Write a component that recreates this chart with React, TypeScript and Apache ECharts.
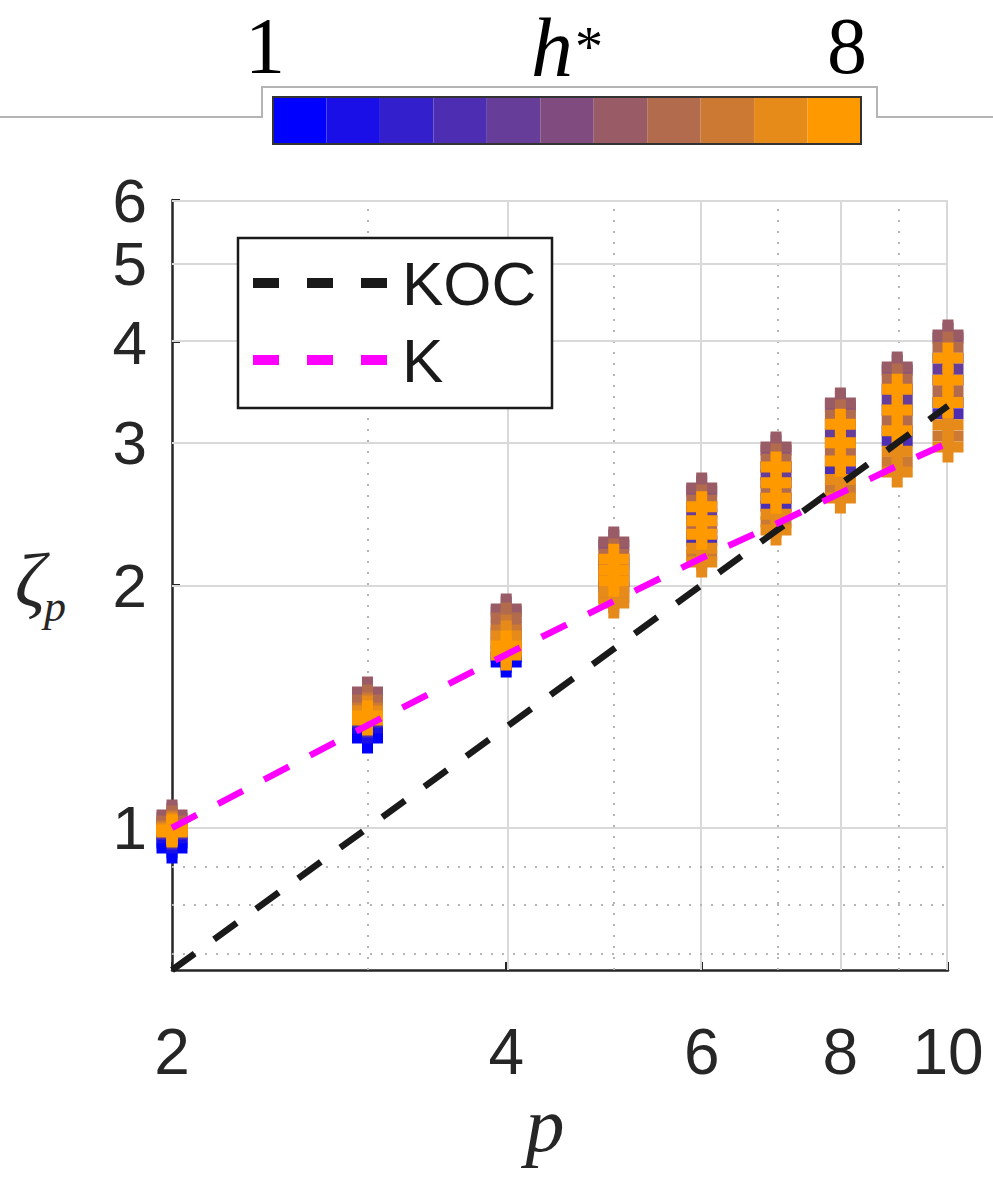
import React, { useEffect, useRef } from "react";
import * as echarts from "echarts";

// ---------- data ----------
const P = [2, 3, 4, 5, 6, 7, 8, 9, 10];
const HSTAR = [1, 1.5, 2, 3, 4, 4.5, 5, 5.5, 6, 6.5, 7, 7.25, 7.5, 7.75, 8];

// zeta_p for each h* (same order as HSTAR)
const ZETA_P2 = [0.9445, 0.9581, 0.9719, 0.983, 1.0, 1.0289, 1.0378, 1.0202, 1.0115, 1.0057, 1.0, 0.9972, 0.9943, 0.9915, 0.9887];
const ZETA_P3 = [1.2928, 1.3113, 1.3302, 1.3531, 1.3844, 1.4615, 1.4741, 1.4408, 1.4244, 1.4083, 1.3963, 1.3844, 1.3765, 1.3687, 1.3609];
const ZETA_P4 = [1.6058, 1.6288, 1.657, 1.6952, 1.7443, 1.852, 1.8679, 1.8206, 1.7897, 1.7593, 1.7294, 1.7049, 1.6808, 1.657, 1.6382];
const ZETA_P5 = [2.0221, 2.1519, 2.086, 1.9906, 2.1184, 2.2421, 2.2614, 2.1853, 2.0535, 1.9297, 1.9602, 1.9002, 2.0221, 2.1519, 2.086];
const ZETA_P6 = [2.311, 2.4996, 2.4031, 2.2659, 2.4508, 2.6156, 2.638, 2.5493, 2.3562, 2.1784, 2.2217, 2.136, 2.311, 2.4996, 2.4031];
const ZETA_P7 = [2.5609, 2.8017, 2.6782, 2.5038, 2.7393, 2.9402, 2.9654, 2.8656, 2.6186, 2.3935, 2.448, 2.3401, 2.5609, 2.8017, 2.6782];
const ZETA_P8 = [2.8485, 3.1647, 3.002, 2.7747, 3.0827, 3.3334, 3.362, 3.2489, 2.9243, 2.632, 2.702, 2.5638, 2.8485, 3.1647, 3.002];
const ZETA_P9 = [3.1066, 3.4961, 3.2956, 3.0166, 3.3939, 3.694, 3.7257, 3.6003, 3.2002, 2.8436, 2.9293, 2.7613, 3.1066, 3.4961, 3.2956];
const ZETA_P10 = [3.3659, 3.8216, 3.587, 3.261, 3.7024, 4.0471, 4.0819, 3.9445, 3.4752, 3.0608, 3.1593, 2.9654, 3.3659, 3.8216, 3.587];
const ZETA_BY_P = [ZETA_P2, ZETA_P3, ZETA_P4, ZETA_P5, ZETA_P6, ZETA_P7, ZETA_P8, ZETA_P9, ZETA_P10];

const KOC = [0.6667, 1.0, 1.3333, 1.6667, 2.0, 2.3333, 2.6667, 3.0, 3.3333];
const K = [1.0, 1.34, 1.64, 1.91, 2.16, 2.38, 2.6, 2.81, 3.0];

const X_RANGE = [2, 10];
const Y_RANGE = [0.6667, 6];
const X_TICKS = [2, 4, 6, 8, 10];
const X_MINOR = [3, 5, 7, 9];
const Y_TICKS = [1, 2, 3, 4, 5, 6];
const Y_MINOR = [0.7, 0.8, 0.9];

const H_RANGE = [1, 8];
const COLORBAR_COLORS = [
  "#0000FF", "#1A0FE6", "#331FCC", "#4D2EB3", "#663D99", "#804C80",
  "#995C66", "#B36B4D", "#CC7A33", "#E68A1A", "#FF9900",
];
const COLORBAR_LEVELS = COLORBAR_COLORS.map((_, i) => i);

// ---------- helpers ----------
const colorFor = (h: number) => {
  const n = COLORBAR_COLORS.length;
  const idx = Math.min(n - 1, Math.floor(((h - H_RANGE[0]) / (H_RANGE[1] - H_RANGE[0])) * n));
  return COLORBAR_COLORS[Math.max(0, idx)];
};
const L = (v: number) => Math.log(v);

const PLUS = "path://M10,0L21,0L21,10L31,10L31,21L21,21L21,31L10,31L10,21L0,21L0,10L10,10Z";
const SANS = "'Liberation Sans', Arial, sans-serif";
const SERIF = "'Liberation Serif', 'Times New Roman', serif";
const AX = "#262626";

const centered = { align: "center", verticalAlign: "middle", textAlign: "center", textVerticalAlign: "middle" };

export default function App() {
  const ref = useRef<HTMLDivElement>(null);

  useEffect(() => {
    if (!ref.current) return;
    const chart = echarts.init(ref.current, undefined, { renderer: "svg" });

    const scatterData: any[] = [];
    HSTAR.forEach((h, hi) => {
      P.forEach((p, pi) => {
        scatterData.push({
          value: [L(p), L(ZETA_BY_P[pi][hi]), h],
          itemStyle: { color: colorFor(h), opacity: 1 },
        });
      });
    });

    const solid = { color: "#d9d9d9", width: 2, type: "solid" };
    const dotted = { color: "#b5b5b5", width: 2, type: [2, 9] };

    const option: any = {
      animation: false,
      backgroundColor: "#ffffff",
      grid: [
        { left: 172, top: 200, width: 776, height: 770, containLabel: false },
        { left: 273, top: 97, width: 588, height: 47, containLabel: false },
      ],
      xAxis: [
        {
          type: "value",
          gridIndex: 0,
          min: L(X_RANGE[0]),
          max: L(X_RANGE[1]),
          axisLine: { show: true, onZero: false, lineStyle: { color: AX, width: 2.5 } },
          axisTick: {
            show: true,
            inside: true,
            length: 8,
            customValues: X_TICKS.map(L),
            lineStyle: { color: AX, width: 2 },
          },
          axisLabel: {
            show: true,
            customValues: X_TICKS.map(L),
            formatter: (v: number) => String(Math.round(Math.exp(v))),
            fontSize: 64,
            lineHeight: 56,
            fontFamily: SANS,
            color: AX,
            margin: 54,
          },
          splitLine: { show: false },
        },
        {
          type: "category",
          gridIndex: 1,
          data: COLORBAR_LEVELS,
          show: false,
        },
      ],
      yAxis: [
        {
          type: "value",
          gridIndex: 0,
          min: L(Y_RANGE[0]),
          max: L(Y_RANGE[1]),
          axisLine: { show: true, onZero: false, lineStyle: { color: AX, width: 2.5 } },
          axisTick: {
            show: true,
            inside: true,
            length: 8,
            customValues: Y_TICKS.map(L),
            lineStyle: { color: AX, width: 2 },
          },
          axisLabel: {
            show: true,
            customValues: Y_TICKS.map(L),
            formatter: (v: number) => String(Math.round(Math.exp(v))),
            fontSize: 62,
            lineHeight: 48,
            fontFamily: SANS,
            color: AX,
            margin: 25,
          },
          splitLine: { show: false },
        },
        { type: "value", gridIndex: 1, min: 0, max: 1, show: false },
      ],
      series: [
        {
          name: "grid",
          type: "line",
          xAxisIndex: 0,
          yAxisIndex: 0,
          z: 1,
          silent: true,
          symbol: "none",
          data: [[L(X_RANGE[0]), L(Y_RANGE[0])]],
          lineStyle: { opacity: 0 },
          markLine: {
            silent: true,
            z: 1,
            symbol: ["none", "none"],
            label: { show: false },
            emphasis: { disabled: true },
            data: [
              ...X_TICKS.slice(1).map((v) => ({ xAxis: L(v), lineStyle: solid })),
              ...X_MINOR.map((v) => ({ xAxis: L(v), lineStyle: dotted })),
              ...Y_TICKS.map((v) => ({ yAxis: L(v), lineStyle: solid })),
              ...Y_MINOR.map((v) => ({ yAxis: L(v), lineStyle: dotted })),
            ],
          },
        },
        {
          name: "zeta",
          type: "scatter",
          xAxisIndex: 0,
          yAxisIndex: 0,
          z: 2,
          symbol: PLUS,
          symbolSize: 31,
          itemStyle: { opacity: 1 },
          data: scatterData,
          clip: false,
        },
        {
          name: "KOC",
          type: "line",
          xAxisIndex: 0,
          yAxisIndex: 0,
          z: 3,
          symbol: "none",
          data: P.map((p, i) => [L(p), L(KOC[i])]),
          lineStyle: { color: "#1a1a1a", width: 6.5, type: [28, 24] },
        },
        {
          name: "K",
          type: "line",
          xAxisIndex: 0,
          yAxisIndex: 0,
          z: 3,
          symbol: "none",
          data: P.map((p, i) => [L(p), L(K[i])]),
          lineStyle: { color: "#ff00ff", width: 6.5, type: [28, 24] },
        },
        {
          name: "colorbar",
          type: "bar",
          xAxisIndex: 1,
          yAxisIndex: 1,
          barCategoryGap: "0%",
          silent: true,
          data: COLORBAR_LEVELS.map((i) => ({ value: 1, itemStyle: { color: COLORBAR_COLORS[i] } })),
        },
      ],
      graphic: [
        {
          type: "polyline",
          z: 0,
          shape: { points: [[0, 117], [262, 117], [262, 87], [877, 87], [877, 117], [993, 117]] },
          style: { stroke: "#b4b4b4", fill: null, lineWidth: 2 },
        },
        {
          type: "rect",
          z: 100,
          shape: { x: 273, y: 97, width: 588, height: 47 },
          style: { stroke: "#333", fill: null, lineWidth: 2 },
        },
        {
          type: "text",
          x: 265,
          y: 46,
          style: { text: "1", fontSize: 80, lineHeight: 60, fontFamily: SERIF, fill: "#000", ...centered },
        },
        {
          type: "text",
          x: 847,
          y: 46,
          style: { text: "8", fontSize: 80, lineHeight: 60, fontFamily: SERIF, fill: "#000", ...centered },
        },
        {
          type: "text",
          x: 552,
          y: 47,
          style: { text: "h", fontSize: 84, lineHeight: 62, fontStyle: "italic", fontFamily: SERIF, fill: "#000", ...centered },
        },
        {
          type: "text",
          x: 589,
          y: 47,
          style: { text: "*", fontSize: 56, lineHeight: 40, fontFamily: SERIF, fill: "#000", ...centered },
        },
        // legend
        {
          type: "rect",
          z: 50,
          shape: { x: 238, y: 238, width: 314, height: 170 },
          style: { stroke: "#1a1a1a", fill: "#ffffff", lineWidth: 2.5 },
        },
        {
          type: "line",
          z: 51,
          shape: { x1: 253, y1: 283, x2: 389, y2: 283 },
          style: { stroke: "#1a1a1a", lineWidth: 10, lineDash: [26, 28] },
        },
        {
          type: "line",
          z: 51,
          shape: { x1: 253, y1: 360, x2: 389, y2: 360 },
          style: { stroke: "#ff00ff", lineWidth: 10, lineDash: [26, 28] },
        },
        {
          type: "text",
          z: 51,
          x: 402,
          y: 283,
          style: { text: "KOC", fontSize: 62, fontFamily: SANS, fill: "#1a1a1a", align: "left", verticalAlign: "middle", textAlign: "left", textVerticalAlign: "middle" },
        },
        {
          type: "text",
          z: 51,
          x: 402,
          y: 360,
          style: { text: "K", fontSize: 62, fontFamily: SANS, fill: "#1a1a1a", align: "left", verticalAlign: "middle", textAlign: "left", textVerticalAlign: "middle" },
        },
        // axis titles
        {
          type: "text",
          x: 30,
          y: 580,
          style: { text: "ζ", fontSize: 76, fontStyle: "italic", fontFamily: SERIF, fill: "#262626", ...centered },
        },
        {
          type: "text",
          x: 55,
          y: 606,
          style: { text: "p", fontSize: 44, fontStyle: "italic", fontFamily: SERIF, fill: "#262626", ...centered },
        },
        {
          type: "text",
          x: 545,
          y: 1124,
          style: { text: "p", fontSize: 78, fontStyle: "italic", fontFamily: SERIF, fill: "#262626", ...centered },
        },
      ],
    };

    chart.setOption(option);
    return () => chart.dispose();
  }, []);

  return (
    <div
      ref={ref}
      style={{ position: "absolute", left: 0, top: 0, width: 993, height: 1184, background: "#fff" }}
    />
  );
}
